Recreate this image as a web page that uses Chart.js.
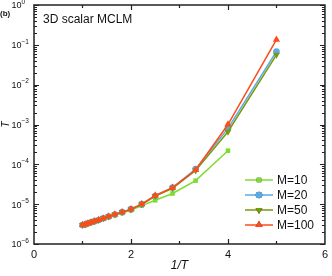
<!DOCTYPE html>
<html>
<head>
<meta charset="utf-8">
<script src="https://cdn.jsdelivr.net/npm/chart.js@4"></script>
<style>
  html, body { margin: 0; padding: 0; background: #fff; }
  #wrap { width: 332px; height: 276px; position: relative; }
</style>
</head>
<body>
<div id="wrap"><canvas id="chart"></canvas></div>
<script>
// 1/T values (T = 1.0, 0.95, ... 0.2)
const invT = [1.0, 1.053, 1.111, 1.176, 1.25, 1.333, 1.429, 1.538, 1.667, 1.818, 2.0, 2.222, 2.5, 2.857, 3.333, 4.0, 5.0];
const m10  = [2.9e-6, 3.0e-6, 3.2e-6, 3.4e-6, 3.6e-6, 3.9e-6, 4.3e-6, 4.7e-6, 5.3e-6, 6.0e-6, 7.0e-6, 9.2e-6, 1.25e-5, 1.85e-5, 3.9e-5, 2.2e-4];
const m20  = [3.0e-6, 3.1e-6, 3.3e-6, 3.5e-6, 3.75e-6, 4.0e-6, 4.4e-6, 4.9e-6, 5.5e-6, 6.3e-6, 7.5e-6, 1.0e-5, 1.6e-5, 2.6e-5, 7.6e-5, 8.0e-4, 0.068];
const m50  = [3.0e-6, 3.1e-6, 3.3e-6, 3.5e-6, 3.75e-6, 4.0e-6, 4.4e-6, 4.9e-6, 5.5e-6, 6.3e-6, 7.4e-6, 9.9e-6, 1.6e-5, 2.5e-5, 7.0e-5, 6.6e-4, 0.056];
const m100 = [3.0e-6, 3.1e-6, 3.3e-6, 3.5e-6, 3.75e-6, 4.0e-6, 4.4e-6, 4.9e-6, 5.5e-6, 6.3e-6, 7.5e-6, 1.0e-5, 1.65e-5, 2.6e-5, 7.2e-5, 1.0e-3, 0.135];
const seriesNames = ["M=10", "M=20", "M=50", "M=100"];
const xTickLabels = ["0", "2", "4", "6"];
const yTickExps = ["-6", "-5", "-4", "-3", "-2", "-1", "0"];

const FONT = "'Liberation Sans', Arial, sans-serif";

function pts(ys) {
  return ys.map((y, i) => ({ x: invT[i], y: y }));
}

const styles = [
  { color: "#7ddc2e", pointStyle: "rect", radius: 3.2, rotation: 0 },
  { color: "#5aaae6", pointStyle: "circle", radius: 3.3, rotation: 0 },
  { color: "#779a0e", pointStyle: "triangle", radius: 4, rotation: 180 },
  { color: "#ff4a1c", pointStyle: "triangle", radius: 4.2, rotation: 0 }
];
const allData = [m10, m20, m50, m100];

const datasets = allData.map((d, i) => ({
  label: seriesNames[i],
  data: pts(d),
  showLine: true,
  borderColor: styles[i].color,
  backgroundColor: styles[i].color,
  borderWidth: 1.5,
  pointStyle: styles[i].pointStyle,
  pointRadius: styles[i].radius,
  pointRotation: styles[i].rotation,
  pointBorderWidth: 0,
  order: 4 - i
}));

// frame, inward ticks, y labels with exponents, legend and text labels
const decorPlugin = {
  id: "decor",
  afterDatasetsDraw(chart) {
    const ctx = chart.ctx;
    const a = chart.chartArea;
    const xs = chart.scales.x, ys = chart.scales.y;
    ctx.save();
    ctx.strokeStyle = "#222";
    ctx.lineWidth = 1.2;
    // x ticks (top and bottom)
    for (let v = 1; v < 6; v++) {
      const px = Math.round(xs.getPixelForValue(v)) + 0.5;
      const len = v % 2 === 0 ? 5 : 3;
      ctx.beginPath();
      ctx.moveTo(px, a.bottom); ctx.lineTo(px, a.bottom - len);
      ctx.moveTo(px, a.top); ctx.lineTo(px, a.top + len);
      ctx.stroke();
    }
    // y ticks (left and right)
    ctx.lineWidth = 1;
    for (let e = -6; e <= 0; e++) {
      for (let m = 1; m <= 9; m++) {
        const v = m * Math.pow(10, e);
        if (v > 1.0001) break;
        const py = Math.round(ys.getPixelForValue(v)) + 0.5;
        const len = m === 1 ? 5 : 3;
        ctx.beginPath();
        ctx.moveTo(a.left, py); ctx.lineTo(a.left + len, py);
        ctx.moveTo(a.right, py); ctx.lineTo(a.right - len, py);
        ctx.stroke();
      }
    }
    // frame
    ctx.lineWidth = 1.5;
    ctx.strokeRect(a.left, a.top, a.right - a.left, a.bottom - a.top);

    // y tick labels: 10 with superscript exponent
    ctx.fillStyle = "#111";
    ctx.textBaseline = "middle";
    yTickExps.forEach((ex, i) => {
      const py = ys.getPixelForValue(Math.pow(10, i - 6));
      ctx.font = "9px " + FONT;
      ctx.textAlign = "right";
      ctx.fillText("10", 21.5, py + 1);
      ctx.font = "6.5px " + FONT;
      ctx.textAlign = "left";
      ctx.fillText(ex.replace("-", "\u2212"), 21.5, py - 3);
    });

    // legend
    const lx0 = 245, lx1 = 273, rows = [180, 195, 210, 225];
    chart.data.datasets.forEach((ds, i) => {
      const y = rows[i];
      ctx.strokeStyle = ds.borderColor;
      ctx.lineWidth = 1.5;
      ctx.beginPath();
      ctx.moveTo(lx0, y); ctx.lineTo(lx1, y);
      ctx.stroke();
      Chart.helpers.drawPoint(ctx, {
        pointStyle: ds.pointStyle,
        rotation: ds.pointRotation,
        radius: ds.pointRadius,
        borderWidth: 0
      }, (lx0 + lx1) / 2, y);
      ctx.fillStyle = ds.borderColor;
      ctx.fill();
      ctx.fillStyle = "#111";
      ctx.font = "12px " + FONT;
      ctx.textAlign = "left";
      ctx.textBaseline = "middle";
      ctx.fillText(ds.label, 277, y + 0.5);
    });

    // annotations
    ctx.fillStyle = "#111";
    ctx.font = "12px " + FONT;
    ctx.textAlign = "left";
    ctx.textBaseline = "middle";
    ctx.fillText("3D scalar MCLM", 43, 20);
    ctx.font = "bold 8px " + FONT;
    ctx.fillText("(b)", 0, 14);
    ctx.restore();
  }
};

new Chart(document.getElementById("chart"), {
  type: "scatter",
  data: { datasets: datasets },
  options: {
    responsive: true,
    maintainAspectRatio: false,
    animation: false,
    layout: { padding: { top: 5, right: 2, left: 0, bottom: 0 } },
    plugins: { legend: { display: false }, tooltip: { enabled: false } },
    scales: {
      x: {
        type: "linear",
        min: 0,
        max: 6,
        grid: { display: false, drawTicks: false },
        border: { display: false },
        ticks: {
          stepSize: 2,
          color: "#111",
          font: { size: 11, family: FONT },
          padding: 4,
          callback: (v) => xTickLabels[v / 2]
        },
        title: {
          display: true,
          text: "1/T",
          color: "#111",
          font: { size: 12, family: FONT, style: "italic" },
          padding: { top: 2, bottom: 3 }
        },
        afterFit: (s) => { s.height = 32; }
      },
      y: {
        type: "logarithmic",
        min: 1e-6,
        max: 1,
        grid: { display: false, drawTicks: false },
        border: { display: false },
        ticks: { display: false },
        title: {
          display: true,
          text: "T",
          color: "#111",
          font: { size: 10, family: FONT, style: "italic" },
          padding: { top: 0, bottom: 0 }
        },
        afterFit: (s) => { s.width = 34; }
      }
    }
  },
  plugins: [decorPlugin]
});
</script>
</body>
</html>
